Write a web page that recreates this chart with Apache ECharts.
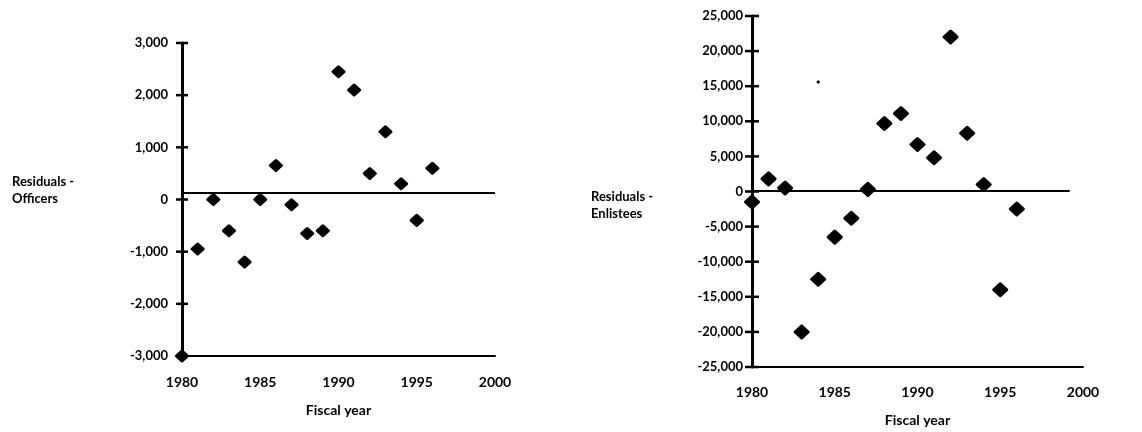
<!DOCTYPE html>
<html>
<head>
<meta charset="utf-8">
<script src="https://cdn.jsdelivr.net/npm/echarts@6/dist/echarts.min.js"></script>
<style>
html,body{margin:0;padding:0;background:#fff;}
#chart{width:1142px;height:432px;}
</style>
</head>
<body>
<div id="chart"></div>
<script>
// ---- data ----
const years = [1980,1981,1982,1983,1984,1985,1986,1987,1988,1989,1990,1991,1992,1993,1994,1995,1996];
const officers = [-3000,-950,0,-600,-1200,0,650,-100,-650,-600,2450,2100,500,1300,300,-400,600];
const enlistees = [-1500,1800,500,-20000,-12500,-6500,-3800,300,9700,11100,6700,4800,22000,8300,1000,-14000,-2500];
const enlisteesStray = [[1984,15600]];
const officersRefLine = 130;
const enlisteesRefLine = 100;
const xTicks = [1980,1985,1990,1995,2000];
const officersTicks = [-3000,-2000,-1000,0,1000,2000,3000];
const enlisteesTicks = [-25000,-20000,-15000,-10000,-5000,0,5000,10000,15000,20000,25000];

const FONT = 'Lato, "Open Sans", "Noto Sans", sans-serif';
const fmt = v => Number(v).toLocaleString('en-US');

function pairs(xs, ys){ return xs.map((x,i)=>[x, ys[i]]); }

const chart = echarts.init(document.getElementById('chart'), null, {renderer:'canvas'});

function yAxis(gridIndex, ticks, margin){
  const min = ticks[0], max = ticks[ticks.length-1], interval = ticks[1]-ticks[0];
  return {
    type:'value', gridIndex, min, max, interval, position:'left',
    axisLine:{show:true, onZero:false, lineStyle:{color:'#000', width:3}},
    axisTick:{show:false},
    splitLine:{show:false},
    axisLabel:{show:true, margin, formatter:fmt, color:'#000', fontFamily:FONT, fontSize:13, fontWeight:'bold'}
  };
}

function xAxis(gridIndex, labelMargin, nameGap){
  return {
    type:'value', gridIndex, min:xTicks[0], max:xTicks[xTicks.length-1], interval:xTicks[1]-xTicks[0],
    axisLine:{show:true, onZero:false, lineStyle:{color:'#000', width:2}},
    axisTick:{show:false},
    splitLine:{show:false},
    axisLabel:{show:true, margin:labelMargin, color:'#000', fontFamily:FONT, fontSize:14, fontWeight:'bold', formatter:v=>String(v)},
    name:'Fiscal year', nameLocation:'middle', nameGap,
    nameTextStyle:{color:'#000', fontFamily:FONT, fontSize:14, fontWeight:'bold'}
  };
}

// crossing tick marks drawn as a custom series on the y axis, one per tick value
function tickSeries(xIdx, yIdx, ticks, halfLen){
  return {
    type:'custom', xAxisIndex:xIdx, yAxisIndex:yIdx, silent:true, clip:false, z:5,
    data:ticks.map(v=>[xTicks[0], v]),
    renderItem:(params, api)=>{
      const p = api.coord([api.value(0), api.value(1)]);
      return {type:'line', shape:{x1:p[0]-halfLen, y1:p[1], x2:p[0]+halfLen, y2:p[1]},
              style:{stroke:'#000', lineWidth:2.5}};
    }
  };
}

const markerStyle = {color:'#000', opacity:1, borderColor:'#000', borderWidth:3, borderJoin:'round'};

const option = {
  animation:false,
  backgroundColor:'#fff',
  grid:[
    {left:182, top:43, width:313, height:313},
    {left:752, top:16, width:331, height:352}
  ],
  xAxis:[ xAxis(0, 19, 47), xAxis(1, 18, 46) ],
  yAxis:[ yAxis(0, officersTicks, 14), yAxis(1, enlisteesTicks, 9) ],
  series:[
    tickSeries(0, 0, officersTicks, 6),
    tickSeries(1, 1, enlisteesTicks, 7),
    {
      type:'scatter', xAxisIndex:0, yAxisIndex:0, clip:false,
      symbol:'diamond', symbolSize:[11,10],
      itemStyle:markerStyle,
      data:pairs(years, officers),
      markLine:{
        silent:true, symbol:['none','none'], label:{show:false},
        lineStyle:{color:'#000', width:2, type:'solid', opacity:1},
        data:[[{coord:[1980, officersRefLine]},{coord:[2000, officersRefLine]}]]
      }
    },
    {
      type:'scatter', xAxisIndex:1, yAxisIndex:1, clip:false,
      symbol:'diamond', symbolSize:[13,12],
      itemStyle:markerStyle,
      data:pairs(years, enlistees),
      markLine:{
        silent:true, symbol:['none','none'], label:{show:false},
        lineStyle:{color:'#000', width:2, type:'solid', opacity:1},
        data:[[{coord:[1980, enlisteesRefLine]},{coord:[1999.2, enlisteesRefLine]}]]
      }
    },
    {
      type:'scatter', xAxisIndex:1, yAxisIndex:1, clip:false,
      symbol:'diamond', symbolSize:4,
      itemStyle:{color:'#000', opacity:1},
      data:enlisteesStray
    }
  ],
  graphic:[
    {type:'text', left:12, top:173, style:{text:'Residuals -\nOfficers', fill:'#000', font:'bold 13px ' + FONT, lineHeight:17}},
    {type:'text', left:591, top:188, style:{text:'Residuals -\nEnlistees', fill:'#000', font:'bold 13px ' + FONT, lineHeight:17}}
  ]
};
chart.setOption(option);
</script>
</body>
</html>
